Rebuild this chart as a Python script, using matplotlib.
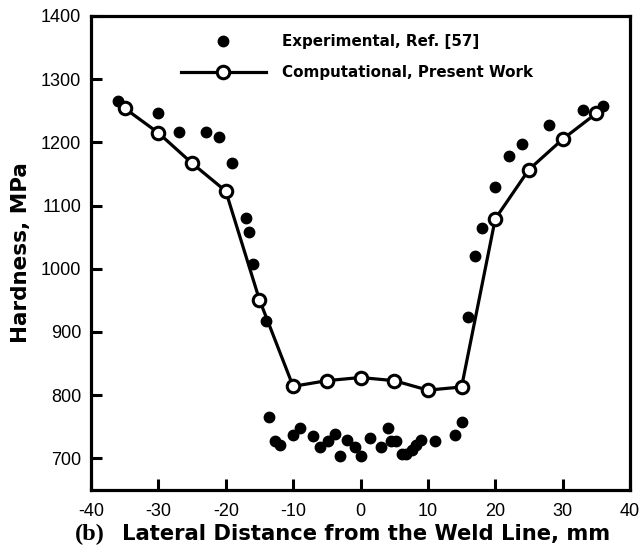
import matplotlib.pyplot as plt
from matplotlib.lines import Line2D

# experimental hardness data (Ref. [57])
exp_x = [-36, -30, -27, -23, -21, -19, -17, -16.5, -16, -14,
         -13.6, -12.7, -12, -10, -9, -7, -6, -4.8, -3.8, -3.1, -2, -0.8, 0, 1.4,
         3, 4.1, 4.5, 5.2, 6.1, 6.8, 7.6, 8.3, 9, 11, 14, 15,
         16, 17, 18, 20, 22, 24, 28, 33, 36]
exp_y = [1266, 1246, 1217, 1217, 1208, 1168, 1080, 1059, 1007, 917,
         765, 727, 721, 737, 748, 736, 718, 727, 738, 704, 729, 718, 704, 733,
         718, 748, 727, 727, 707, 707, 714, 721, 729, 727, 737, 757,
         923, 1021, 1065, 1129, 1178, 1197, 1227, 1251, 1257]

# computational results (present work)
comp_x = [-35, -30, -25, -20, -15, -10, -5, 0, 5, 10, 15, 20, 25, 30, 35]
comp_y = [1254, 1215, 1167, 1123, 951, 814, 823, 828, 823, 808, 813, 1079, 1157, 1205, 1246]

xticks = [-40, -30, -20, -10, 0, 10, 20, 30, 40]
yticks = [700, 800, 900, 1000, 1100, 1200, 1300, 1400]

sans = 'Liberation Sans'
bold = 'DejaVu Sans'   # wider bold face, closer to the spaced-out labels
serif = 'Liberation Serif'

fig = plt.figure(figsize=(6.42, 5.52), dpi=100)
ax = fig.add_axes([91/642, 62/552, 539/642, 474/552])

ax.plot(exp_x, exp_y, 'o', color='black', markersize=7.5, linestyle='none')
ax.plot(comp_x, comp_y, '-o', color='black', linewidth=2.3, markersize=9,
        markerfacecolor='white', markeredgewidth=2.2)

ax.set_xlim(-40, 40)
ax.set_ylim(650, 1400)
ax.set_xticks(xticks)
ax.set_yticks(yticks)
ax.set_xticklabels([str(t) for t in xticks], fontfamily=sans, fontsize=13)
ax.set_yticklabels([str(t) for t in yticks], fontfamily=sans, fontsize=13)
ax.tick_params(direction='in', length=8, width=2.2, top=False, right=False)
ax.tick_params(axis='x', pad=9)
ax.tick_params(axis='y', pad=7)
for sp in ax.spines.values():
    sp.set_linewidth(2.3)

ax.set_ylabel('Hardness, MPa', fontfamily=bold, fontweight='bold', fontsize=15.5, labelpad=7)

# x label: "(b)" in serif, the rest in sans
fig.text(75/642, 1 - 540/552, '(b)', fontfamily=serif, fontweight='bold', fontsize=17.5,
         ha='left', va='baseline')
fig.text(122/642, 1 - 540/552, 'Lateral Distance from the Weld Line, mm', fontfamily=bold,
         fontweight='bold', fontsize=15.2, ha='left', va='baseline')

handles = [
    Line2D([], [], marker='o', color='black', linestyle='none', markersize=7.5),
    Line2D([], [], marker='o', color='black', linewidth=2.3, markersize=9,
           markerfacecolor='white', markeredgewidth=2.2),
]
ax.legend(handles, ['Experimental, Ref. [57]', 'Computational, Present Work'],
          loc='upper left', bbox_to_anchor=(84/539, 0.975), frameon=False,
          prop={'family': bold, 'weight': 'bold', 'size': 10.9},
          handlelength=5.6, handletextpad=1.1, labelspacing=1.05, borderaxespad=0)

fig.savefig('out.png', dpi=100)
